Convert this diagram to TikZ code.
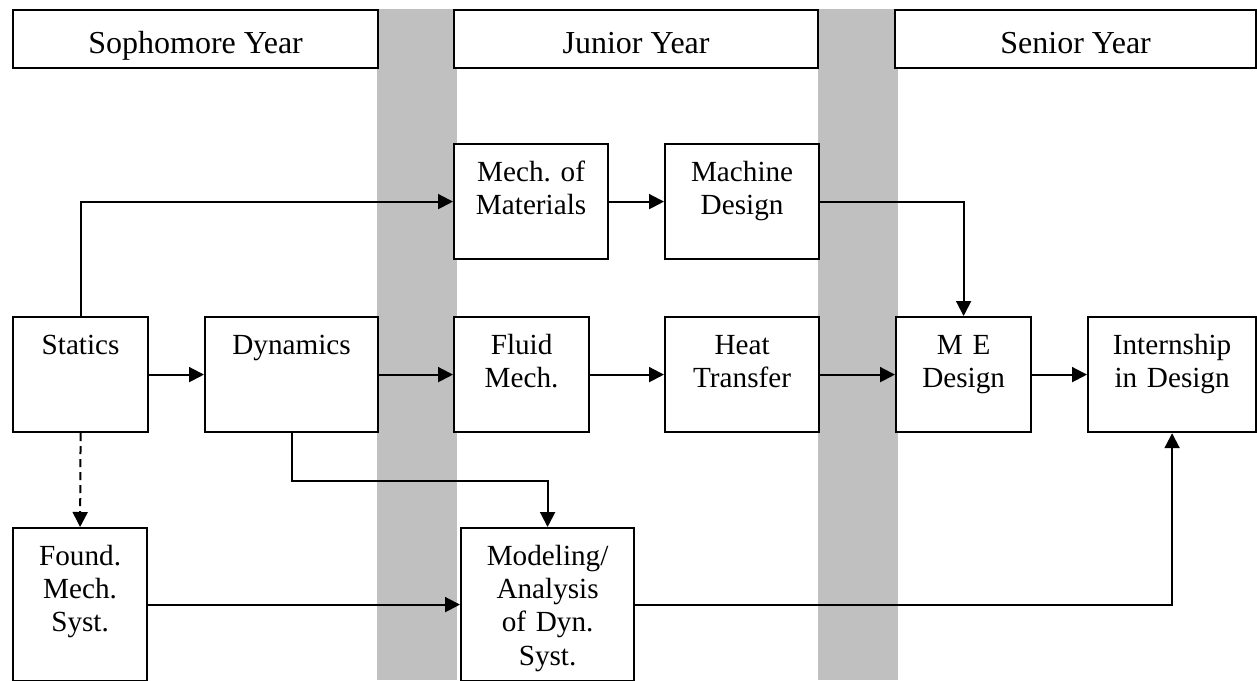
\documentclass[tikz,border=0pt]{standalone}
\usepackage{fontspec}
\setmainfont{Liberation Serif}
\usetikzlibrary{arrows.meta}

\definecolor{bandgray}{RGB}{192,192,192}

\begin{document}
\frenchspacing
\begin{tikzpicture}[
        x=0.5pt, y=-0.5pt,
        >={Triangle[length=7.5pt,width=7.5pt]},
        box/.style={draw, line width=1.1pt, rectangle, fill=white, anchor=north west, inner sep=0pt, align=center, font=\fontsize{14.6}{16.7}\selectfont, text height=18.5pt, text depth=39pt},
        tall/.style={text depth=58pt},
        yearbox/.style={draw, line width=1.1pt, rectangle, fill=white, anchor=north west, inner sep=0pt, font=\fontsize{16}{18}\selectfont, text height=21.5pt, text depth=7.5pt},
        arrow/.style={->, line width=1pt}
    ]
        \useasboundingbox (0,0) rectangle (1257,680);

        % shaded gaps between the years
        \fill[bandgray] (377,9) rectangle (457,680);
        \fill[bandgray] (818,9) rectangle (898,680);

        \node[yearbox, minimum width=182.5pt] (soph) at (12,9) {Sophomore Year};
        \node[yearbox, minimum width=182pt] (junior) at (453,9) {Junior Year};
        \node[yearbox, minimum width=180.5pt] (senior) at (894,9) {Senior Year};

        \node[box, text width=77pt] (mechmat) at (453,143) {Mech. of\\Materials};
        \node[box, text width=77pt] (machine) at (664,143) {Machine\\Design};

        \node[box, text width=67.5pt] (statics) at (12,316) {Statics};
        \node[box, text width=86.5pt] (dynamics) at (204,316) {Dynamics};
        \node[box, text width=67.5pt] (fluid) at (453,316) {Fluid\\Mech.};
        \node[box, text width=77pt] (heat) at (664,316) {Heat\\Transfer};
        \node[box, text width=67.5pt] (medesign) at (895,316) {M E\\Design};
        \node[box, text width=84pt] (intern) at (1087,316) {Internship\\in Design};

        \node[box, tall, text width=67pt] (found) at (12,527) {Found.\\Mech.\\Syst.};
        \node[box, tall, text width=86.5pt] (model) at (460,527) {Modeling/\\Analysis\\of Dyn.\\Syst.};

        \draw[arrow] (statics.north) |- (mechmat.west);
        \draw[arrow] (mechmat) -- (machine);
        \draw[arrow] (machine.east) -| (medesign.north);

        \draw[arrow] (statics) -- (dynamics);
        \draw[arrow] (dynamics) -- (fluid);
        \draw[arrow] (fluid) -- (heat);
        \draw[arrow] (heat) -- (medesign);
        \draw[arrow] (medesign) -- (intern);

        \draw[arrow, dash pattern=on 4pt off 2.5pt] (statics.south) -- (found.north);
        \draw[arrow] (dynamics.south) -- ++(0,48) -| (model.north);
        \draw[arrow] (found.east) -- (model.west);
        \draw[arrow] (model.east) -| (intern.south);
    \end{tikzpicture}
\end{document}
